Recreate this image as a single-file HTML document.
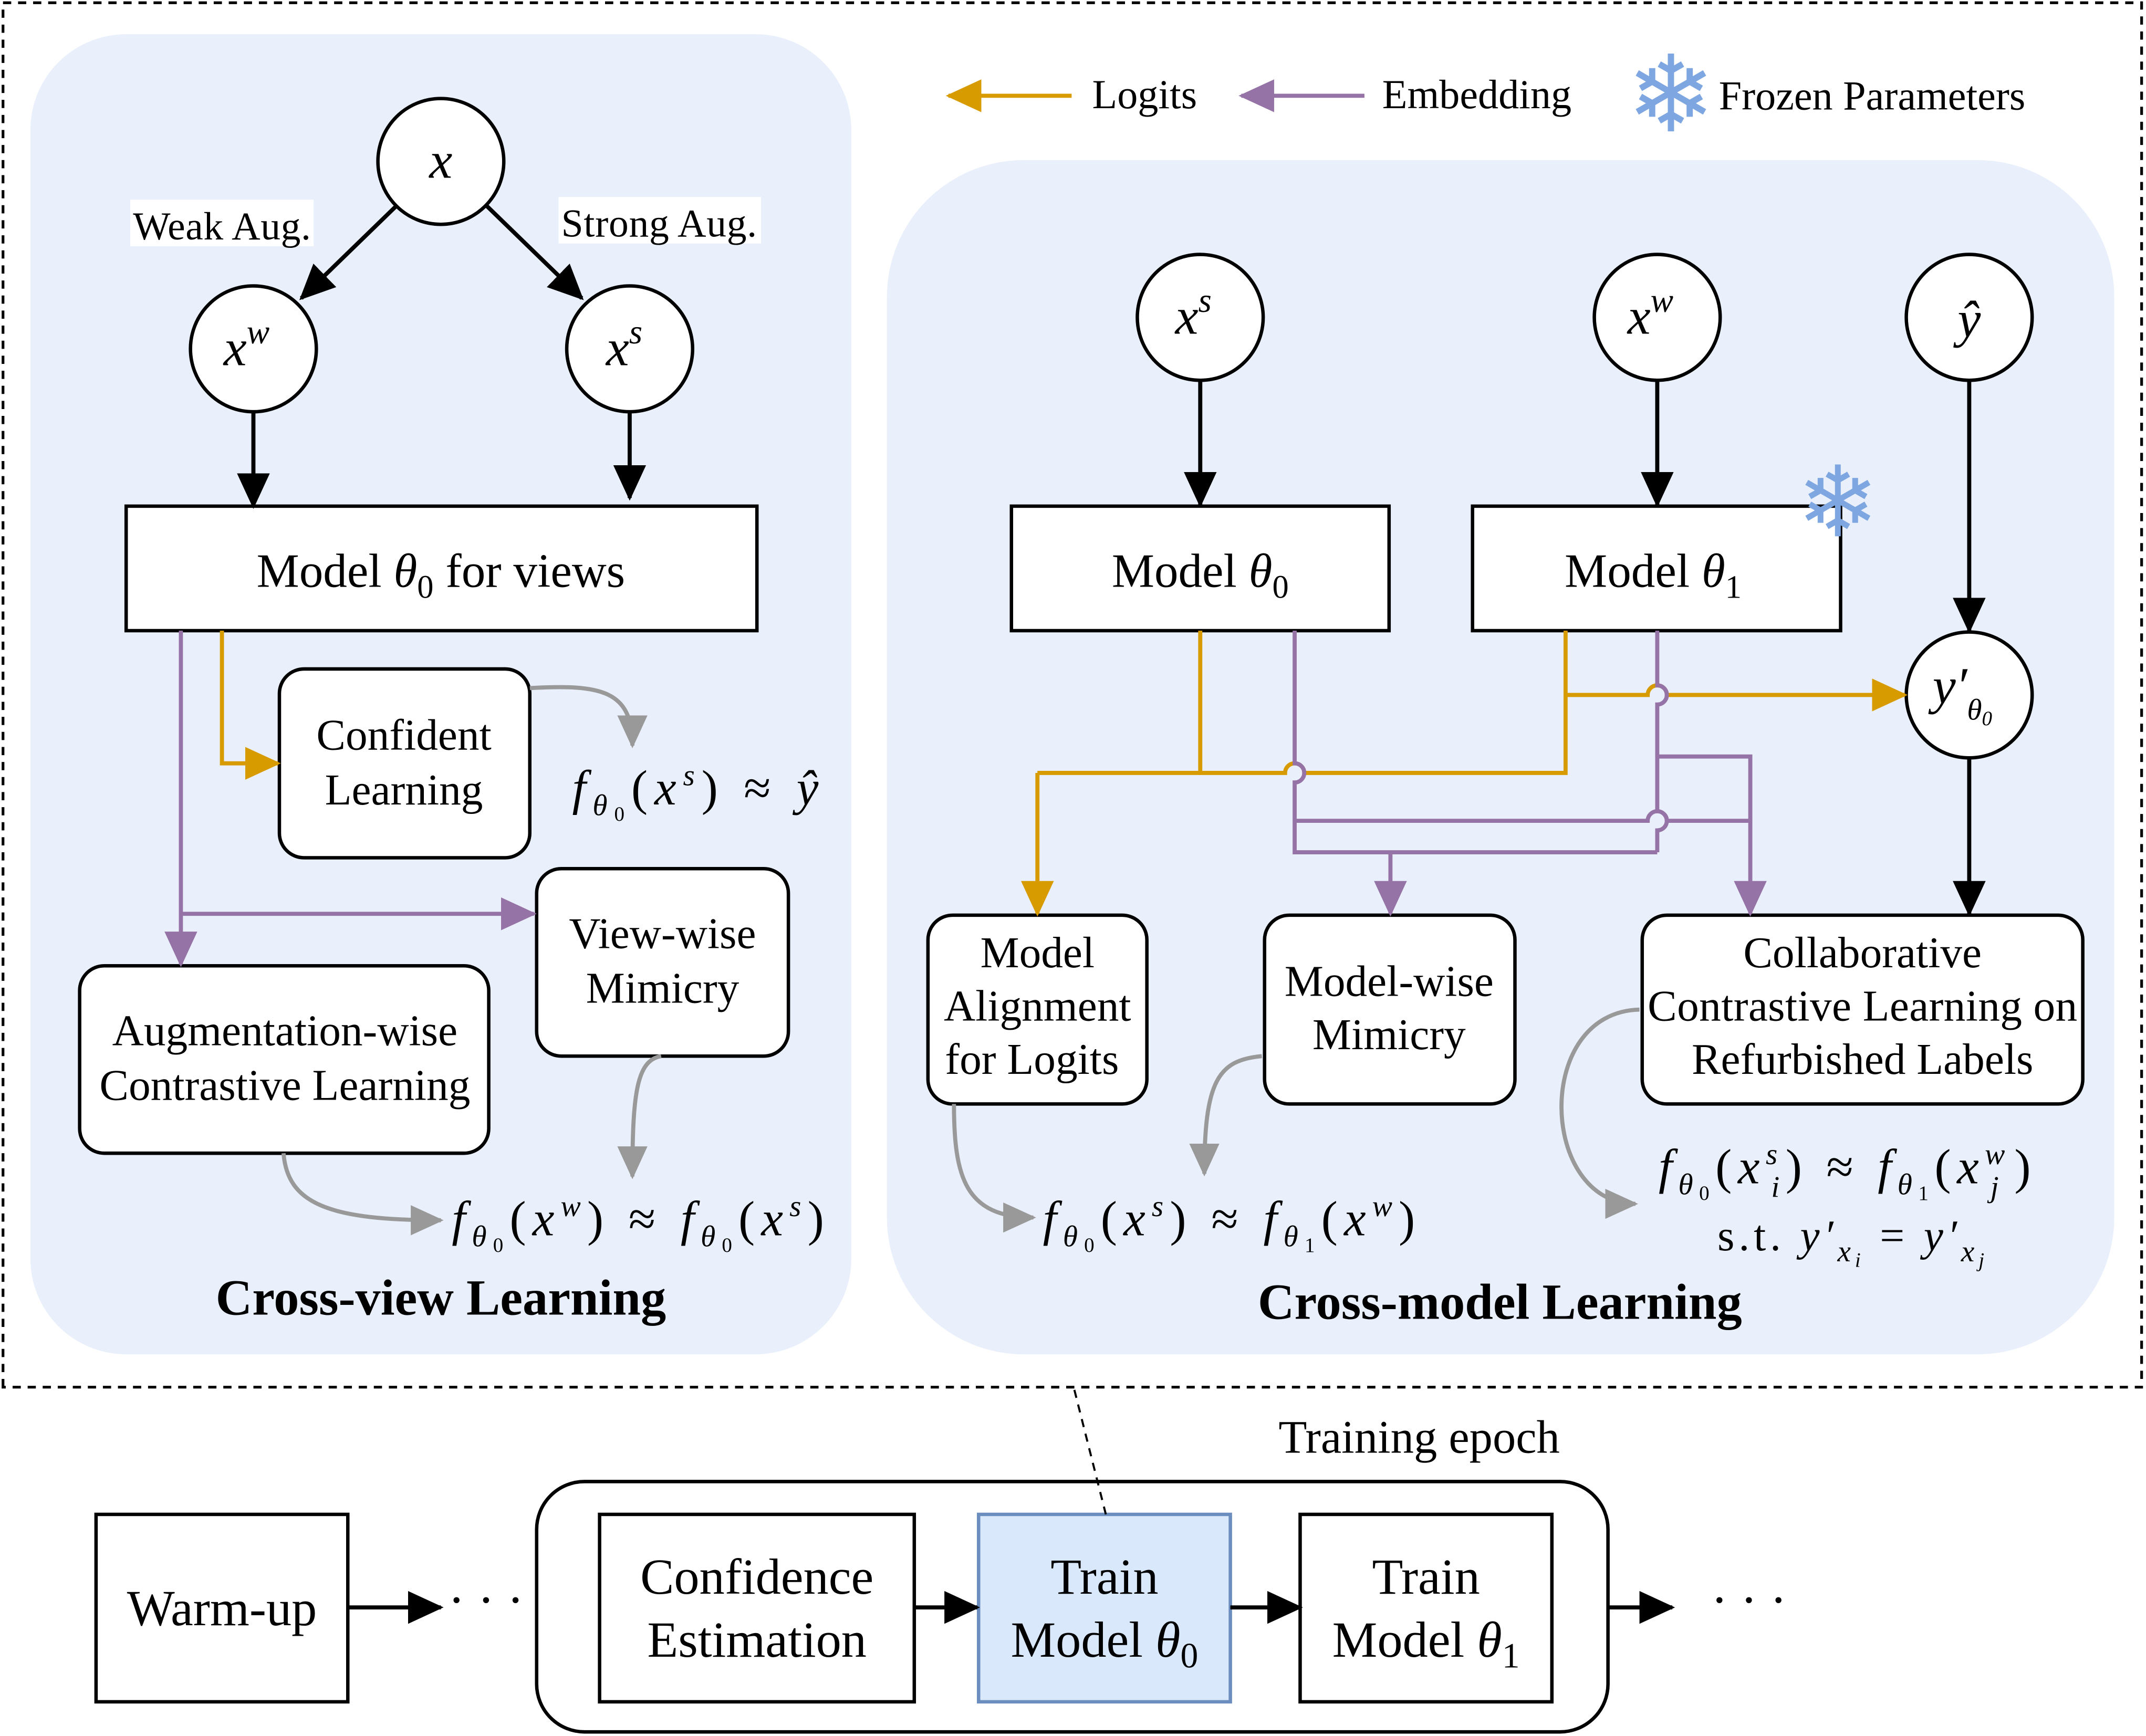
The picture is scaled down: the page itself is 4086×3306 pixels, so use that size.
<!DOCTYPE html>
<html><head><meta charset="utf-8"><style>
html,body{margin:0;padding:0;background:#fff}
svg{display:block}
text{font-family:"Liberation Serif","DejaVu Serif",serif;fill:#000}
.m{font-style:italic}
</style></head><body>
<svg width="4086" height="3306" viewBox="0 0 1568 1269" xmlns="http://www.w3.org/2000/svg">
<defs>
<marker id="ak" markerUnits="userSpaceOnUse" markerWidth="26" markerHeight="24" refX="24" refY="12" orient="auto"><path d="M0,0 L26,12 L0,24 Z" fill="#000"/></marker>
<marker id="ao" markerUnits="userSpaceOnUse" markerWidth="26" markerHeight="24" refX="24" refY="12" orient="auto"><path d="M0,0 L26,12 L0,24 Z" fill="#d79b00"/></marker>
<marker id="ap" markerUnits="userSpaceOnUse" markerWidth="26" markerHeight="24" refX="24" refY="12" orient="auto"><path d="M0,0 L26,12 L0,24 Z" fill="#9673a6"/></marker>
<marker id="ag" markerUnits="userSpaceOnUse" markerWidth="24" markerHeight="22" refX="22" refY="11" orient="auto"><path d="M0,0 L24,11 L0,22 Z" fill="#999"/></marker>
</defs>
<rect x="0" y="0" width="1568" height="1269" fill="#fff"/>
<path d="M2,1014 L2,2 L1565,2 L1565,1014 Z" fill="none" stroke="#000" stroke-width="2" stroke-dasharray="6,5"/>
<rect x="22" y="25" width="600" height="965" rx="70" fill="#e9f0fb"/>
<rect x="648" y="117" width="897" height="873" rx="100" fill="#e9f0fb"/>

<line x1="783" y1="70" x2="693" y2="70" stroke="#d79b00" stroke-width="3" marker-end="url(#ao)"/>
<text x="798" y="79" font-size="30">Logits</text>
<line x1="997" y1="70" x2="907" y2="70" stroke="#9673a6" stroke-width="3" marker-end="url(#ap)"/>
<text x="1010" y="79" font-size="30">Embedding</text>
<text x="1221" y="96" font-size="78" text-anchor="middle" style="font-family:'DejaVu Sans',sans-serif;fill:#7ea6e0">❄</text>
<text x="1256" y="80" font-size="30">Frozen Parameters</text>

<g stroke="#000" stroke-width="2.5" fill="#fff">
<circle cx="322" cy="118" r="46"/>
<circle cx="185" cy="255" r="46"/>
<circle cx="460" cy="255" r="46"/>
<circle cx="877" cy="232" r="46"/>
<circle cx="1211" cy="232" r="46"/>
<circle cx="1439" cy="232" r="46"/>
<circle cx="1439" cy="508" r="46"/>
<rect x="92" y="370" width="461" height="91"/>
<rect x="204" y="489" width="183" height="138" rx="18"/>
<rect x="392" y="635" width="184" height="137" rx="18"/>
<rect x="58" y="706" width="299" height="137" rx="18"/>
<rect x="739" y="370" width="276" height="91"/>
<rect x="1076" y="370" width="269" height="91"/>
<rect x="678" y="669" width="160" height="138" rx="18"/>
<rect x="924" y="669" width="183" height="138" rx="18"/>
<rect x="1200" y="669" width="322" height="138" rx="18"/>
<rect x="392" y="1083" width="783" height="183" rx="35"/>
<rect x="70" y="1107" width="184" height="137"/>
<rect x="438" y="1107" width="230" height="137"/>
<rect x="715" y="1107" width="184" height="137" fill="#dae8fc" stroke="#6c8ebf"/>
<rect x="950" y="1107" width="184" height="137"/>
</g>

<g stroke="#000" stroke-width="3" fill="none" marker-end="url(#ak)">
<line x1="290" y1="150" x2="220" y2="218"/>
<line x1="355" y1="150" x2="425" y2="218"/>
<line x1="185" y1="301" x2="185" y2="370"/>
<line x1="460" y1="301" x2="460" y2="364"/>
<line x1="877" y1="278" x2="877" y2="369"/>
<line x1="1211" y1="278" x2="1211" y2="369"/>
<line x1="1439" y1="278" x2="1439" y2="461"/>
<line x1="1439" y1="554" x2="1439" y2="668"/>
<line x1="254" y1="1175" x2="322" y2="1175"/>
<line x1="668" y1="1175" x2="714" y2="1175"/>
<line x1="899" y1="1175" x2="950" y2="1175"/>
<line x1="1175" y1="1175" x2="1222" y2="1175"/>
</g>
<line x1="785" y1="1016" x2="808" y2="1107" stroke="#000" stroke-width="1.5" stroke-dasharray="6,5"/>

<path d="M162,461 L162,558 L203,558" stroke="#d79b00" stroke-width="3" fill="none" marker-end="url(#ao)"/>
<path d="M132,461 L132,705" stroke="#9673a6" stroke-width="3" fill="none" marker-end="url(#ap)"/>
<path d="M132,668 L390,668" stroke="#9673a6" stroke-width="3" fill="none" marker-end="url(#ap)"/>

<g stroke="#d79b00" stroke-width="3" fill="none">
<path d="M877,461 L877,565 L939,565 a7,7 0 0 1 14,0 L1144,565 L1144,461"/>
<path d="M758,565 L877,565"/>
<path d="M758,565 L758,668" marker-end="url(#ao)"/>
<path d="M1144,508 L1204,508 a7,7 0 0 1 14,0 L1392,508" marker-end="url(#ao)"/>
</g>
<g stroke="#9673a6" stroke-width="3" fill="none">
<path d="M946,461 L946,558 a7,7 0 0 1 0,14 L946,623 L1211,623"/>
<path d="M1211,461 L1211,501 a7,7 0 0 1 0,14 L1211,593 a7,7 0 0 1 0,14 L1211,623"/>
<path d="M946,600 L1204,600 a7,7 0 0 1 14,0 L1279,600"/>
<path d="M1211,553 L1279,553 L1279,668" marker-end="url(#ap)"/>
<path d="M1016,623 L1016,668" marker-end="url(#ap)"/>
</g>

<g stroke="#999" stroke-width="3" fill="none" marker-end="url(#ag)">
<path d="M387,503 C440,500 462,505 462,545"/>
<path d="M483,772 C465,775 462,800 462,860"/>
<path d="M207,843 C210,880 240,892 322,892"/>
<path d="M697,807 C697,860 705,890 755,890"/>
<path d="M922,772 C890,775 880,790 880,858"/>
<path d="M1198,738 C1120,740 1125,880 1195,880"/>
</g>

<rect x="95" y="146" width="134" height="34" fill="#fff"/>
<text x="97" y="175" font-size="29" textLength="130">Weak Aug.</text>
<rect x="408" y="144" width="148" height="34" fill="#fff"/>
<text x="410" y="173" font-size="29" textLength="143">Strong Aug.</text>

<g font-size="38" text-anchor="middle">
<text x="322" y="130" class="m">x</text>
<text x="180" y="267" class="m">x<tspan font-size="25" dy="-16">w</tspan></text>
<text x="456" y="267" class="m">x<tspan font-size="25" dy="-16">s</tspan></text>
<text x="872" y="244" class="m">x<tspan font-size="25" dy="-16">s</tspan></text>
<text x="1206" y="244" class="m">x<tspan font-size="25" dy="-16">w</tspan></text>
<text x="1439" y="246" class="m">ŷ</text>
<text x="1434" y="514" class="m">y′<tspan font-size="22" dy="12">θ</tspan><tspan font-size="15" dy="4">0</tspan></text>
</g>

<g font-size="35" text-anchor="middle">
<text x="322" y="429">Model <tspan class="m">θ</tspan><tspan font-size="24" dy="8">0</tspan><tspan dy="-8"> for views</tspan></text>
<text x="877" y="429">Model <tspan class="m">θ</tspan><tspan font-size="24" dy="8">0</tspan></text>
<text x="1208" y="429">Model <tspan class="m">θ</tspan><tspan font-size="24" dy="8">1</tspan></text>
</g>
<g font-size="32" text-anchor="middle">
<text x="295" y="548">Confident</text>
<text x="295" y="588">Learning</text>
<text x="484" y="693">View-wise</text>
<text x="484" y="733">Mimicry</text>
<text x="208" y="764">Augmentation-wise</text>
<text x="208" y="804">Contrastive Learning</text>
<text x="758" y="707">Model</text>
<text x="758" y="746">Alignment</text>
<text x="754" y="785">for Logits</text>
<text x="1015" y="728">Model-wise</text>
<text x="1015" y="767">Mimicry</text>
<text x="1361" y="707">Collaborative</text>
<text x="1361" y="746" textLength="314">Contrastive Learning on</text>
<text x="1361" y="785">Refurbished Labels</text>
</g>
<g font-size="37" text-anchor="middle">
<text x="162" y="1188">Warm-up</text>
<text x="553" y="1165">Confidence</text>
<text x="553" y="1211">Estimation</text>
<text x="807" y="1165">Train</text>
<text x="807" y="1211">Model <tspan class="m">θ</tspan><tspan font-size="26" dy="8">0</tspan></text>
<text x="1042" y="1165">Train</text>
<text x="1042" y="1211">Model <tspan class="m">θ</tspan><tspan font-size="26" dy="8">1</tspan></text>
<text x="355" y="1182">· · ·</text>
<text x="1278" y="1182">· · ·</text>
</g>
<text x="1037" y="1062" font-size="34" text-anchor="middle">Training epoch</text>

<g font-size="36">
<text x="418" y="588" textLength="180"><tspan class="m">f</tspan><tspan font-size="22" dy="8" class="m">θ</tspan><tspan font-size="15" dy="4">0</tspan><tspan dy="-12">(</tspan><tspan class="m">x</tspan><tspan font-size="22" dy="-14" class="m">s</tspan><tspan dy="14">) ≈ </tspan><tspan class="m">ŷ</tspan></text>
<text x="330" y="903" textLength="272"><tspan class="m">f</tspan><tspan font-size="22" dy="8" class="m">θ</tspan><tspan font-size="15" dy="4">0</tspan><tspan dy="-12">(</tspan><tspan class="m">x</tspan><tspan font-size="22" dy="-14" class="m">w</tspan><tspan dy="14">) ≈ </tspan><tspan class="m">f</tspan><tspan font-size="22" dy="8" class="m">θ</tspan><tspan font-size="15" dy="4">0</tspan><tspan dy="-12">(</tspan><tspan class="m">x</tspan><tspan font-size="22" dy="-14" class="m">s</tspan><tspan dy="14">)</tspan></text>
<text x="762" y="903" textLength="272"><tspan class="m">f</tspan><tspan font-size="22" dy="8" class="m">θ</tspan><tspan font-size="15" dy="4">0</tspan><tspan dy="-12">(</tspan><tspan class="m">x</tspan><tspan font-size="22" dy="-14" class="m">s</tspan><tspan dy="14">) ≈ </tspan><tspan class="m">f</tspan><tspan font-size="22" dy="8" class="m">θ</tspan><tspan font-size="15" dy="4">1</tspan><tspan dy="-12">(</tspan><tspan class="m">x</tspan><tspan font-size="22" dy="-14" class="m">w</tspan><tspan dy="14">)</tspan></text>
<text x="1212" y="865" textLength="272"><tspan class="m">f</tspan><tspan font-size="22" dy="8" class="m">θ</tspan><tspan font-size="15" dy="4">0</tspan><tspan dy="-12">(</tspan><tspan class="m">x</tspan><tspan font-size="22" dy="-14" class="m">s</tspan><tspan font-size="22" dx="-9" dy="24" class="m">i</tspan><tspan dy="-10">) ≈ </tspan><tspan class="m">f</tspan><tspan font-size="22" dy="8" class="m">θ</tspan><tspan font-size="15" dy="4">1</tspan><tspan dy="-12">(</tspan><tspan class="m">x</tspan><tspan font-size="22" dy="-14" class="m">w</tspan><tspan font-size="22" dx="-15" dy="24" class="m">j</tspan><tspan dx="7" dy="-10">)</tspan></text>
<text x="1255" y="914" font-size="32" textLength="195">s.t. <tspan class="m">y′</tspan><tspan font-size="22" dy="8" class="m">x</tspan><tspan font-size="15" dy="4" class="m">i</tspan><tspan dy="-12"> = </tspan><tspan class="m">y′</tspan><tspan font-size="22" dy="8" class="m">x</tspan><tspan font-size="15" dy="4" class="m">j</tspan></text>
</g>

<text x="322" y="961" font-size="37" font-weight="bold" text-anchor="middle">Cross-view Learning</text>
<text x="1096" y="964" font-size="37" font-weight="bold" text-anchor="middle">Cross-model Learning</text>
<text x="1343" y="392" font-size="72" text-anchor="middle" style="font-family:'DejaVu Sans',sans-serif;fill:#7ea6e0">❄</text>
</svg>
</body></html>
